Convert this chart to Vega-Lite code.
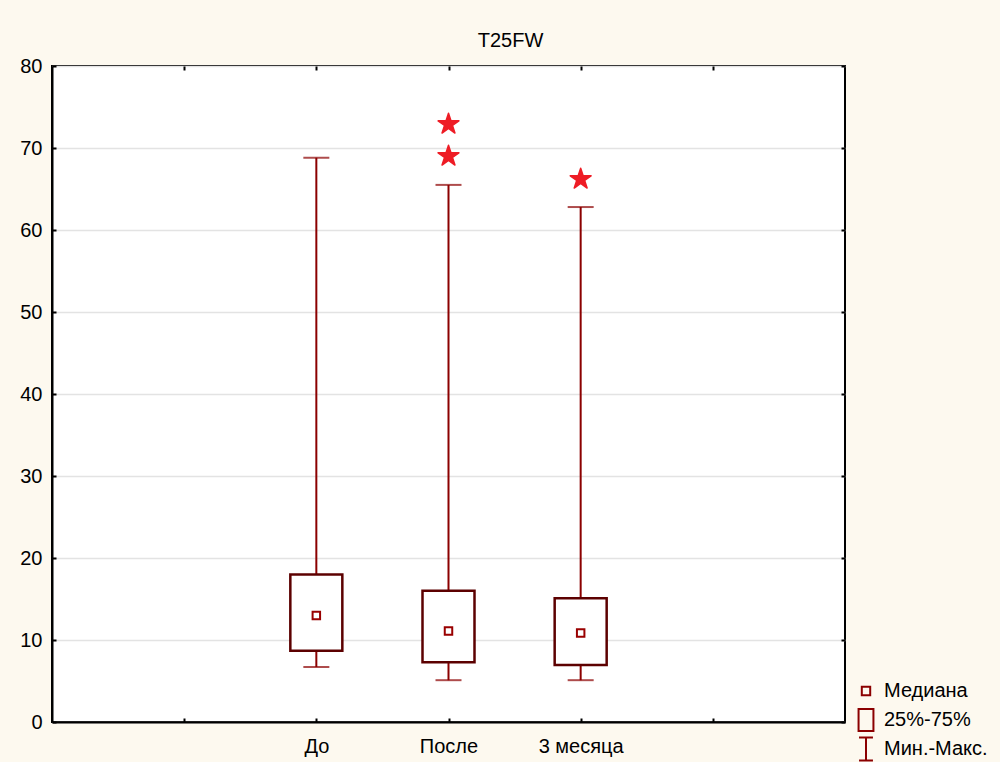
{
  "$schema": "https://vega.github.io/schema/vega-lite/v6.json",
  "autosize": "none",
  "width": 793,
  "height": 656,
  "padding": {"left": 52, "top": 66, "right": 155, "bottom": 40},
  "background": "#FDF9EF",
  "title": {"text": "T25FW", "font": "Liberation Sans", "fontSize": 20, "fontWeight": "normal", "color": "#000000", "anchor": "middle", "dx": 62, "offset": 4},
  "config": {
    "view": {"fill": "#FFFFFF", "stroke": "#000000", "strokeWidth": 2},
    "axis": {"labelFont": "Liberation Sans", "labelFontSize": 20, "labelColor": "#000000", "domainColor": "#000000", "domainWidth": 2, "tickColor": "#000000", "tickWidth": 2, "title": null}
  },
  "resolve": {"axis": {"x": "independent", "y": "independent"}},
  "datasets": {
    "boxes": [
      {"group": "До", "min": 6.7, "q1": 8.7, "median": 13.0, "q3": 18.0, "max": 68.8},
      {"group": "После", "min": 5.1, "q1": 7.3, "median": 11.1, "q3": 16.0, "max": 65.5},
      {"group": "3 месяца", "min": 5.1, "q1": 6.95, "median": 10.85, "q3": 15.1, "max": 62.8}
    ],
    "outliers": [
      {"group": "После", "value": 72.9},
      {"group": "После", "value": 69.0},
      {"group": "3 месяца", "value": 66.2}
    ],
    "legendItems": [
      {"item": "Медиана"},
      {"item": "25%-75%"},
      {"item": "Мин.-Макс."}
    ]
  },
  "layer": [
    {
      "data": {"name": "boxes"},
      "mark": {"type": "rule", "color": "#8B0000", "strokeWidth": 2},
      "encoding": {
        "x": {
          "field": "group",
          "type": "nominal",
          "scale": {"type": "point", "domain": ["_a", "До", "После", "3 месяца", "_b"], "padding": 1},
          "axis": {"orient": "bottom", "labelAngle": 0, "grid": false, "tickSize": -4, "labelPadding": 18, "labelExpr": "indexof(datum.value, '_') === 0 ? '' : datum.value"}
        },
        "y": {"field": "min", "type": "quantitative", "scale": {"domain": [0, 80], "nice": false},
          "axis": {"orient": "left", "values": [0, 10, 20, 30, 40, 50, 60, 70, 80], "grid": true, "gridColor": "#E3E3E3", "gridWidth": 1.5, "tickSize": -4, "labelPadding": 14}},
        "y2": {"field": "max"}
      }
    },
    {
      "data": {"name": "boxes"},
      "mark": {"type": "tick", "color": "#8B0000", "size": 26, "thickness": 2, "orient": "horizontal"},
      "encoding": {
        "x": {"field": "group", "type": "nominal",
          "axis": {"orient": "top", "labels": false, "grid": false, "domain": false, "tickSize": -4}},
        "y": {"field": "min", "type": "quantitative",
          "axis": {"orient": "right", "values": [0, 10, 20, 30, 40, 50, 60, 70, 80], "labels": false, "grid": false, "domain": false, "tickSize": -4}}
      }
    },
    {
      "data": {"name": "boxes"},
      "mark": {"type": "tick", "color": "#8B0000", "size": 26, "thickness": 2, "orient": "horizontal"},
      "encoding": {
        "x": {"field": "group", "type": "nominal", "axis": null},
        "y": {"field": "max", "type": "quantitative", "axis": null}
      }
    },
    {
      "data": {"name": "boxes"},
      "mark": {"type": "bar", "width": 52, "fill": "#FFFFFF", "stroke": "#5C0000", "strokeWidth": 2.5},
      "encoding": {
        "x": {"field": "group", "type": "nominal", "axis": null},
        "y": {"field": "q1", "type": "quantitative", "axis": null},
        "y2": {"field": "q3"}
      }
    },
    {
      "data": {"name": "boxes"},
      "mark": {"type": "point", "shape": "square", "size": 56, "filled": false, "fill": "#FFFFFF", "stroke": "#990000", "strokeWidth": 2, "opacity": 1},
      "encoding": {
        "x": {"field": "group", "type": "nominal", "axis": null},
        "y": {"field": "median", "type": "quantitative", "axis": null}
      }
    },
    {
      "data": {"name": "outliers"},
      "mark": {"type": "point", "shape": "M0,-1L0.2245,-0.309L0.951,-0.309L0.363,0.118L0.588,0.809L0,0.382L-0.588,0.809L-0.363,0.118L-0.951,-0.309L-0.2245,-0.309Z", "size": 480, "filled": true, "fill": "#EE1C25", "stroke": "#EE1C25", "strokeWidth": 1.5, "strokeJoin": "round", "opacity": 1},
      "encoding": {
        "x": {"field": "group", "type": "nominal", "axis": null},
        "y": {"field": "value", "type": "quantitative", "axis": null}
      }
    },
    {
      "data": {"name": "legendItems"},
      "mark": {"type": "point", "opacity": 0, "size": 576},
      "encoding": {
        "x": {"value": 0},
        "y": {"value": 0},
        "shape": {
          "field": "item",
          "type": "nominal",
          "scale": {
            "domain": ["Медиана", "25%-75%", "Мин.-Макс."],
            "range": [
              "M-0.35,-0.35H0.35V0.35H-0.35Z",
              "M-0.62,-0.92H0.62V0.92H-0.62Z",
              "M-0.58,-0.95H0.58M0,-0.95V0.95M-0.58,0.95H0.58"
            ]
          },
          "legend": {
            "title": null,
            "orient": "none",
            "legendX": 801,
            "legendY": 612,
            "gridAlign": "all",
            "symbolSize": 576,
            "symbolOpacity": 1,
            "symbolFillColor": "#FFFFFF",
            "symbolStrokeColor": "#8B0000",
            "symbolStrokeWidth": 2,
            "labelFont": "Liberation Sans",
            "labelFontSize": 20,
            "labelColor": "#000000",
            "labelOffset": 5,
            "rowPadding": -3,
            "labelLimit": 200
          }
        }
      }
    }
  ]
}
